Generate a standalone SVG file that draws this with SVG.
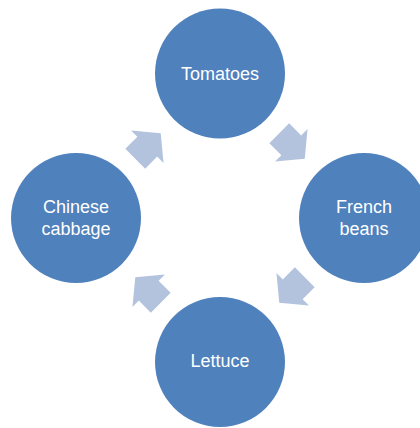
<svg xmlns="http://www.w3.org/2000/svg" width="420" height="428" viewBox="0 0 420 428">
<style>
.node{fill:#4f81bd}
.lbl{fill:#ffffff;font-family:"Liberation Sans",Arial,sans-serif;font-size:18px;text-anchor:middle}
.arr{fill:#b3c3de}
</style>
<defs>
<path id="arrow" d="M-18,-14 L-1,-14 L-1,-23 L18,0 L-1,23 L-1,14 L-18,14 Z"/>
</defs>
<rect width="420" height="428" fill="#ffffff"/>
<g id="connectors">
<use href="#arrow" class="arr" transform="translate(292,146) rotate(45)"/>
<use href="#arrow" class="arr" transform="translate(292,290) rotate(135)"/>
<use href="#arrow" class="arr" transform="translate(148,290) rotate(225)"/>
<use href="#arrow" class="arr" transform="translate(148,146) rotate(315)"/>
</g>
<g id="tomatoes">
<circle class="node" cx="220" cy="73.5" r="65"/>
<text class="lbl" x="220" y="80">Tomatoes</text>
</g>
<g id="french-beans">
<circle class="node" cx="364" cy="218" r="65"/>
<text class="lbl" x="364" y="213">French</text>
<text class="lbl" x="364" y="235">beans</text>
</g>
<g id="lettuce">
<circle class="node" cx="220" cy="362" r="65"/>
<text class="lbl" x="220" y="367">Lettuce</text>
</g>
<g id="chinese-cabbage">
<circle class="node" cx="76" cy="218" r="65"/>
<text class="lbl" x="76" y="213">Chinese</text>
<text class="lbl" x="76" y="235">cabbage</text>
</g>
</svg>
